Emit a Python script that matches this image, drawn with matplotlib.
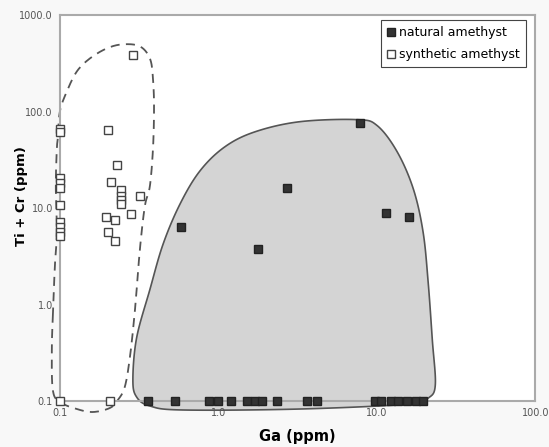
import numpy as np
import matplotlib.pyplot as plt
from matplotlib.lines import Line2D

# natural amethyst (Ga ppm, Ti+Cr ppm)
nat_ga = [7.8, 2.7, 0.58, 1.77, 11.5, 16.0,
          0.36, 0.53, 0.87, 0.99, 1.21, 1.52, 1.70, 1.89, 2.33, 3.64, 4.22,
          9.7, 10.6, 12.3, 13.7, 15.6, 17.7, 19.5]
nat_ticr = [77, 16, 6.3, 3.8, 8.9, 8.0,
            0.1, 0.1, 0.1, 0.1, 0.1, 0.1, 0.1, 0.1, 0.1, 0.1, 0.1,
            0.1, 0.1, 0.1, 0.1, 0.1, 0.1, 0.1]

# synthetic amethyst
syn_ga = [0.1, 0.1, 0.1, 0.1, 0.1, 0.1, 0.1, 0.1, 0.1, 0.1, 0.1,
          0.2, 0.23, 0.21, 0.242, 0.242, 0.242, 0.242, 0.32, 0.281, 0.195,
          0.223, 0.201, 0.223, 0.29, 0.207]
syn_ticr = [66, 61, 20.4, 18.2, 16.1, 10.8, 7.2, 6.3, 5.7, 5.1, 0.1,
            65, 28, 18.5, 15.5, 13.2, 12.2, 11.0, 13.2, 8.6, 8.0,
            7.5, 5.6, 4.6, 385, 0.1]

# hand drawn fields around the two groups
nat_field_x = [0.289, 0.305, 0.37, 0.448, 0.573, 0.766, 1.10, 1.71, 3.28,
               7.52, 10.07, 13.45, 17.0, 19.6, 21.1, 22.4, 23.4, 21.1, 16.3,
               3.28, 0.598, 0.37, 0.305]
nat_field_y = [0.1655, 0.45, 1.43, 4.22, 11.0, 24.3, 43.2, 61.9, 78.7,
               82.6, 71.5, 38.3, 15.8, 5.62, 1.69, 0.432, 0.147, 0.107, 0.093,
               0.0825, 0.0806, 0.0887, 0.11]

syn_field_x = [0.0903, 0.093, 0.0957, 0.0943, 0.0957, 0.0971, 0.1, 0.1107, 0.128,
               0.1547, 0.198, 0.25, 0.32, 0.37, 0.387, 0.393, 0.387, 0.37, 0.344,
               0.32, 0.298, 0.277, 0.257, 0.232, 0.207, 0.1617, 0.128, 0.1,
               0.0903, 0.089]
syn_field_y = [0.75, 2.49, 5.62, 16.9, 41.2, 52.3, 100, 162, 261,
               356, 453, 499, 475, 356, 221, 107, 41.2, 16.9, 10.5,
               3.74, 0.887, 0.287, 0.14, 0.102, 0.0846, 0.0768, 0.0825, 0.0976,
               0.13, 0.34]


def smooth_closed(xs, ys, n=20):
    # catmull-rom through the points, done in log space
    lx = np.log10(xs)
    ly = np.log10(ys)
    m = len(lx)
    outx, outy = [], []
    t = np.linspace(0, 1, n, endpoint=False)
    for i in range(m):
        p0 = np.array([lx[i - 1], ly[i - 1]])
        p1 = np.array([lx[i], ly[i]])
        p2 = np.array([lx[(i + 1) % m], ly[(i + 1) % m]])
        p3 = np.array([lx[(i + 2) % m], ly[(i + 2) % m]])
        for tt in t:
            pt = 0.5 * ((2 * p1) + (-p0 + p2) * tt
                        + (2 * p0 - 5 * p1 + 4 * p2 - p3) * tt ** 2
                        + (-p0 + 3 * p1 - 3 * p2 + p3) * tt ** 3)
            outx.append(pt[0])
            outy.append(pt[1])
    outx.append(outx[0])
    outy.append(outy[0])
    return 10 ** np.array(outx), 10 ** np.array(outy)


fig = plt.figure(figsize=(5.49, 4.47), dpi=100, facecolor='#f8f8f8')
ax = fig.add_axes([0.109, 0.103, 0.866, 0.863])
ax.set_facecolor('white')

ax.set_xscale('log')
ax.set_yscale('log')
ax.set_xlim(0.1, 100)
ax.set_ylim(0.1, 1000)

fx, fy = smooth_closed(nat_field_x, nat_field_y)
ax.fill(fx, fy, facecolor='#d4d4d4', edgecolor='#555555', linewidth=1.2,
        zorder=1, clip_on=False)

sx, sy = smooth_closed(syn_field_x, syn_field_y)
ax.plot(sx, sy, color='#555555', linewidth=1.3, linestyle=(0, (5, 3.5)),
        zorder=2, clip_on=False)

ax.plot(nat_ga, nat_ticr, 's', markersize=6, markerfacecolor='#333333',
        markeredgecolor='#222222', linestyle='none', zorder=4, clip_on=False)
ax.plot(syn_ga, syn_ticr, 's', markersize=6, markerfacecolor='white',
        markeredgecolor='#444444', markeredgewidth=1.0, linestyle='none',
        zorder=4, clip_on=False)

ax.set_xticks([0.1, 1.0, 10.0, 100.0])
ax.set_xticklabels(['0.1', '1.0', '10.0', '100.0'])
ax.set_yticks([0.1, 1.0, 10.0, 100.0, 1000.0])
ax.set_yticklabels(['0.1', '1.0', '10.0', '100.0', '1000.0'])
ax.minorticks_off()
ax.tick_params(length=0, labelsize=7, labelcolor='#555555', pad=5)

for s in ax.spines.values():
    s.set_color('#aaaaaa')
    s.set_linewidth(1.5)

ax.set_xlabel('Ga (ppm)', fontsize=10.5, fontweight='bold', labelpad=8)
ax.set_ylabel('Ti + Cr (ppm)', fontsize=9.5, fontweight='bold')
ax.yaxis.set_label_coords(-0.067, 0.53)

handles = [
    Line2D([], [], marker='s', markersize=6, markerfacecolor='#333333',
           markeredgecolor='#222222', linestyle='none'),
    Line2D([], [], marker='s', markersize=6, markerfacecolor='white',
           markeredgecolor='#444444', linestyle='none'),
]
leg = ax.legend(handles, ['natural amethyst', 'synthetic amethyst'],
                loc='upper right', bbox_to_anchor=(0.98, 0.987), fontsize=9,
                fancybox=False, framealpha=1, edgecolor='#444444',
                handlelength=0.6, handletextpad=0.3, borderpad=0.5,
                labelspacing=0.7, borderaxespad=0)
leg.get_frame().set_linewidth(0.8)

plt.savefig('out.png', dpi=100, facecolor=fig.get_facecolor())
